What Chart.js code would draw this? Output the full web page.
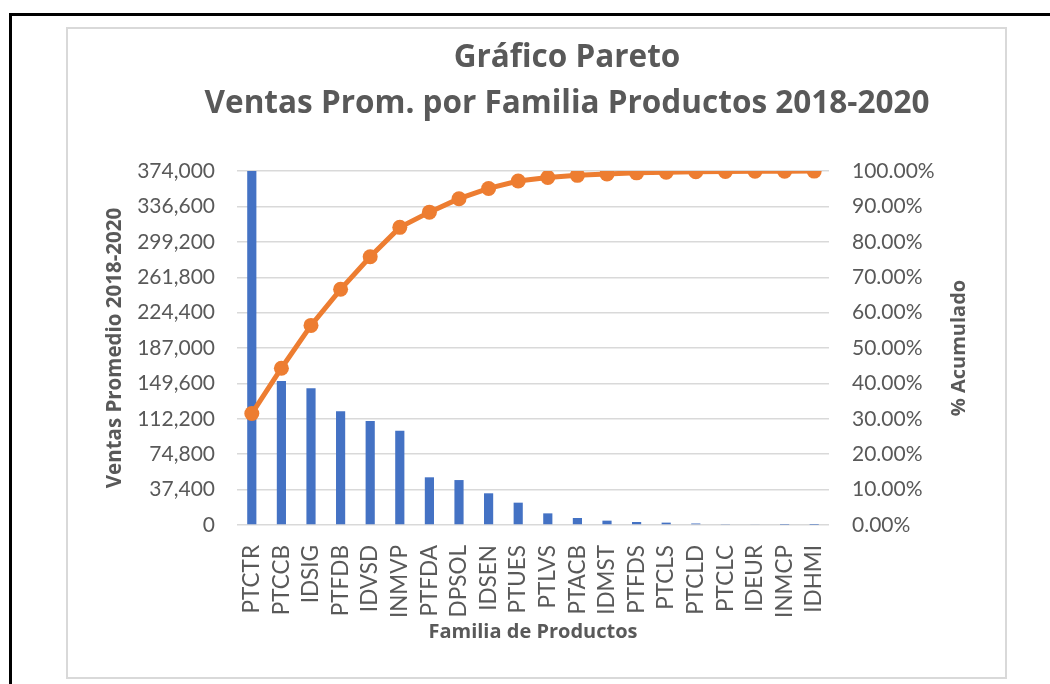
<!DOCTYPE html>
<html>
<head>
<meta charset="utf-8">
<script src="https://cdn.jsdelivr.net/npm/chart.js@4/dist/chart.umd.min.js"></script>
<style>
  html, body { margin: 0; padding: 0; background: #fff; }
  #frame { position: absolute; left: 9px; top: 13px; width: 1100px; height: 700px;
           border-left: 3px solid #000; border-top: 3px solid #000; }
  #box { position: absolute; left: 66px; top: 27px; width: 937px; height: 648px;
         border: 2px solid #d9d9d9; }
  #chart { position: absolute; left: 0; top: 0; }
</style>
</head>
<body>
<div id="frame"></div>
<div id="box"></div>
<canvas id="chart" width="1050" height="684"></canvas>
<script>
// Families sorted by average sales, as in the source sheet
const familias = [
  'PTCTR', 'PTCCB', 'IDSIG', 'PTFDB', 'IDVSD', 'INMVP', 'PTFDA', 'DPSOL', 'IDSEN', 'PTUES',
  'PTLVS', 'PTACB', 'IDMST', 'PTFDS', 'PTCLS', 'PTCLD', 'PTCLC', 'IDEUR', 'INMCP', 'IDHMI',
];

// Ventas promedio 2018-2020
const ventas = [
  374000, 152100, 144400, 120100, 109900, 99650, 50400, 47500, 33500, 23600,
  12300, 7400, 4600, 3200, 2500, 1600, 1000, 700, 300, 200,
];

// % acumulado
const acumulado = [
  31.5, 44.3, 56.4, 66.6, 75.8, 84.1, 88.4, 92.2, 95.1, 97.2,
  98.2, 98.8, 99.2, 99.5, 99.7, 99.8, 99.9, 99.95, 99.98, 100,
];

const tituloLineas = ['Gráfico Pareto', 'Ventas Prom. por Familia Productos 2018-2020'];

const GRIS = '#595959';
const FONT = 'Lato, "Open Sans", sans-serif';
const FONT_B = '"Open Sans", Lato, sans-serif';

// right-hand axis title reads bottom-to-top in the original, Chart.js draws it the other way
const rightTitlePlugin = {
  id: 'rightTitle',
  afterDraw(chart) {
    const { ctx } = chart;
    ctx.save();
    ctx.translate(959, 348);
    ctx.rotate(-Math.PI / 2);
    ctx.font = 'bold 20px ' + FONT_B;
    ctx.fillStyle = GRIS;
    ctx.textAlign = 'center';
    ctx.textBaseline = 'middle';
    ctx.fillText('% Acumulado', 0, 0);
    ctx.restore();
  },
};

new Chart(document.getElementById('chart'), {
  data: {
    labels: familias,
    datasets: [
      {
        type: 'line',
        label: '% Acumulado',
        data: acumulado,
        yAxisID: 'y1',
        borderColor: '#ED7D31',
        backgroundColor: '#ED7D31',
        borderWidth: 5,
        pointRadius: 7.5,
        pointBorderWidth: 0,
        tension: 0,
        order: 0,
      },
      {
        type: 'bar',
        label: 'Ventas Promedio',
        data: ventas,
        yAxisID: 'y',
        backgroundColor: '#4472C4',
        categoryPercentage: 1,
        barPercentage: 0.31,
        order: 1,
      },
    ],
  },
  plugins: [rightTitlePlugin],
  options: {
    responsive: false,
    animation: false,
    layout: { padding: { left: 103, right: 19, top: 20, bottom: 40 } },
    plugins: {
      legend: { display: false },
      tooltip: { enabled: false },
      title: {
        display: true,
        text: tituloLineas,
        color: GRIS,
        font: { family: FONT_B, size: 31.5, weight: 'bold', lineHeight: 1.43 },
        padding: { top: 16, bottom: 45 },
      },
    },
    scales: {
      x: {
        grid: { display: false },
        border: { display: false },
        ticks: {
          color: GRIS,
          font: { family: FONT, size: 22.5 },
          autoSkip: false,
          minRotation: 90,
          maxRotation: 90,
          padding: 12,
        },
        title: {
          display: true,
          text: 'Familia de Productos',
          color: GRIS,
          font: { family: FONT_B, size: 20, weight: 'bold' },
          padding: 0,
        },
        afterFit: s => { s.height = 119; },
      },
      y: {
        position: 'left',
        min: 0,
        max: 374000,
        grid: { color: '#d9d9d9', lineWidth: 1.5, drawTicks: false },
        border: { display: false },
        ticks: {
          stepSize: 37400,
          color: GRIS,
          font: { family: FONT, size: 21 },
          padding: 22,
          callback: v => v.toLocaleString('en-US'),
        },
        title: {
          display: true,
          text: 'Ventas Promedio 2018-2020',
          color: GRIS,
          font: { family: FONT_B, size: 20.5, weight: 'bold' },
          padding: 0,
        },
        afterFit: s => { s.width = 134; },
      },
      y1: {
        position: 'right',
        min: 0,
        max: 100,
        grid: { display: false, drawTicks: false },
        border: { display: false },
        ticks: {
          stepSize: 10,
          color: GRIS,
          font: { family: FONT, size: 21 },
          padding: 23,
          callback: v => v.toFixed(2) + '%',
        },
        afterFit: s => { s.width = 202; },
      },
    },
  },
});
</script>
</body>
</html>
